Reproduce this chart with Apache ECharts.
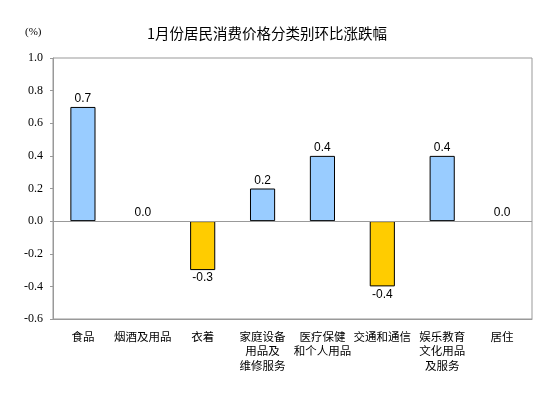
<!DOCTYPE html>
<html><head><meta charset="utf-8">
<script src="https://cdn.jsdelivr.net/npm/echarts@6/dist/echarts.min.js"></script>
<style>html,body{margin:0;padding:0;background:#fff}#c{width:554px;height:398px}</style>
</head><body><div id="c"></div>
<script>
const categories = ['食品','烟酒及用品','衣着','家庭设备\n用品及\n维修服务','医疗保健\n和个人用品','交通和通信','娱乐教育\n文化用品\n及服务','居住'];
const values = [0.7, 0.0, -0.3, 0.2, 0.4, -0.4, 0.4, 0.0];
const yTicks = {min: -0.6, max: 1.0, interval: 0.2};
const titleText = '1月份居民消费价格分类别环比涨跌幅';
const unitText = '(%)';

const chart = echarts.init(document.getElementById('c'));
chart.setOption({
  animation: false,
  backgroundColor: '#fff',
  title: {text: titleText, left: 142, top: 21, textStyle: {fontSize: 14.5, fontWeight: 'normal', color: '#000', fontFamily: 'Noto Sans CJK SC'}},
  graphic: [{type: 'text', left: 25, top: 27, style: {text: unitText, fontSize: 11, fontFamily: 'Liberation Serif', fill: '#000'}}],
  grid: {left: 53, right: 22, top: 58, bottom: 79, show: true, borderColor: '#999', borderWidth: 1},
  xAxis: {type: 'category', data: categories,
    axisLine: {onZero: false, lineStyle: {color: '#999'}},
    axisTick: {show: false},
    axisLabel: {interval: 0, margin: 10, fontSize: 11.5, lineHeight: 14.5, color: '#000', fontFamily: 'Noto Sans CJK SC'}},
  yAxis: {type: 'value', min: yTicks.min, max: yTicks.max, interval: yTicks.interval,
    splitLine: {show: false},
    axisLine: {show: true, lineStyle: {color: '#999'}},
    axisTick: {show: true, length: 3, lineStyle: {color: '#999'}},
    axisLabel: {margin: 10, fontSize: 12, color: '#000', fontFamily: 'Liberation Serif', formatter: v => v.toFixed(1)}},
  series: [{type: 'bar', barWidth: '42%',
    data: values.map(v => ({value: v,
      itemStyle: {color: v < 0 ? '#FFCC00' : '#99CCFF', borderColor: '#000', borderWidth: v === 0 ? 0 : 1},
      label: {position: v < 0 ? 'bottom' : 'top'}})),
    label: {show: true, distance: 2, fontSize: 12, color: '#000', fontFamily: 'Liberation Sans', formatter: p => p.value.toFixed(1)},
    markLine: {silent: true, symbol: 'none', label: {show: false}, lineStyle: {color: '#999', type: 'solid', width: 1}, data: [{yAxis: 0}]}
  }]
});
</script></body></html>
